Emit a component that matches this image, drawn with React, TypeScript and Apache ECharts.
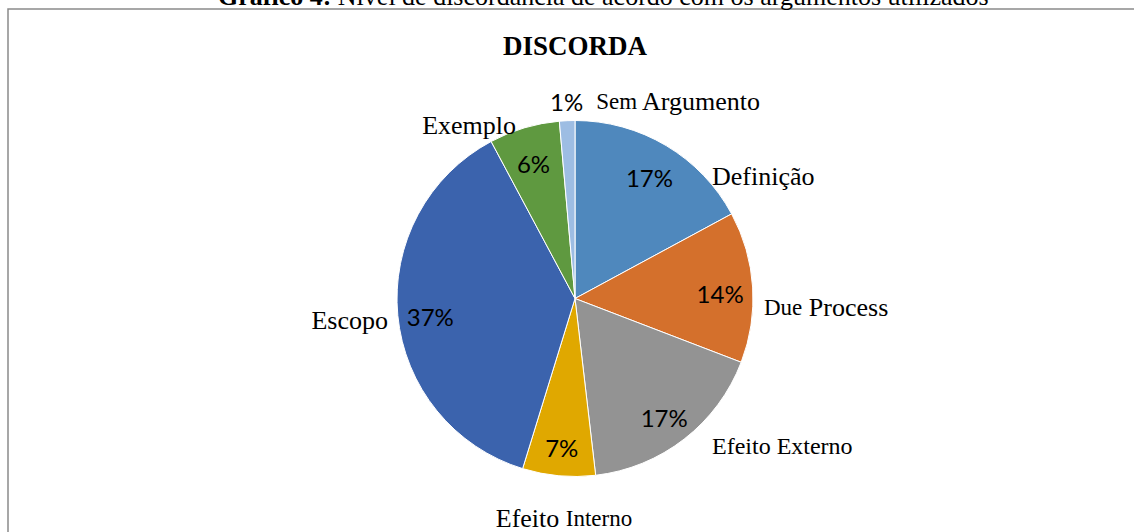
import React, { useEffect, useRef } from "react";
import * as echarts from "echarts";

const categories = ["Definição", "Due Process", "Efeito Externo", "Efeito Interno", "Escopo", "Exemplo", "Sem Argumento"];
const values = [17.1, 13.7, 17.3, 6.6, 37.4, 6.4, 1.4];
const colors = ["#4F88BD", "#D4702C", "#939393", "#E0A800", "#3B63AD", "#5F9940", "#9DBDE3"];
const chartTitle = "DISCORDA";
const captionBold = "Gráfico 4:";
const captionText = " Nível de discordância de acordo com os argumentos utilizados";

// label placement (style): offset from pie centre, alignment
const CX = 575;
const CY = 298.5;
const R = 178;
const namePos = [
  { dx: 137, dy: -122, align: "left" },
  { dx: 189, dy: 8.5, align: "left" },
  { dx: 137, dy: 147.5, align: "left" },
  { dx: -11, dy: 219.5, align: "center" },
  { dx: -187, dy: 21.5, align: "right" },
  { dx: -59, dy: -173.5, align: "right" },
  { dx: -25, dy: -197.5, align: "left" },
];

const SERIF = "'Liberation Serif', 'Times New Roman', serif";
const SANS = "Lato, 'Noto Sans', sans-serif";

export default function App() {
  const ref = useRef<HTMLDivElement>(null);
  useEffect(() => {
    if (!ref.current) return;
    const chart = echarts.init(ref.current, undefined, { renderer: "svg" });
    const total = values.reduce((a, b) => a + b, 0);
    const pct = (v: number) => Math.round((v / total) * 100) + "%";
    const baseData = categories.map((c, i) => ({ name: c, value: values[i] }));
    const nameFmt = (p: any) => {
      const i = p.dataIndex;
      if (i === 1) return "{s|Due} Process";
      if (i === 2) return "{m|Efeito Externo}";
      if (i === 3) return "Efeito {s|Interno}";
      if (i === 6) return "{p|" + pct(values[i]) + "}  {s|Sem} Argumento";
      return p.name;
    };
    chart.setOption({
      animation: false,
      backgroundColor: "#ffffff",
      graphic: [
        {
          type: "rect",
          z: 0,
          shape: { x: 8, y: 9, width: 1200, height: 600 },
          style: { fill: "none", stroke: "#8a8a8a", lineWidth: 1.5 },
        },
        {
          type: "text",
          x: 218,
          y: -4,
          style: {
            text: "{b|" + captionBold + "}" + captionText,
            font: "26px " + SERIF,
            fill: "#000",
            verticalAlign: "middle",
            align: "left",
            rich: { b: { fontWeight: "bold", fontSize: 26, fontFamily: SERIF, fill: "#000" } },
          },
        },
        {
          type: "text",
          x: CX,
          y: 46,
          style: {
            text: chartTitle,
            font: "bold 27px " + SERIF,
            fill: "#000",
            align: "center",
            verticalAlign: "middle",
          },
        },
      ],
      series: [
        {
          type: "pie",
          center: [CX, CY],
          radius: R,
          startAngle: 90,
          clockwise: true,
          silent: true,
          avoidLabelOverlap: false,
          label: { show: false },
          labelLine: { show: false },
          itemStyle: { borderColor: "#ffffff", borderWidth: 1 },
          data: baseData.map((d, i) => ({ ...d, itemStyle: { color: colors[i] } })),
        },
        {
          type: "pie",
          center: [CX, CY],
          radius: [R * 0.6, R],
          startAngle: 90,
          clockwise: true,
          silent: true,
          avoidLabelOverlap: false,
          itemStyle: { color: "rgba(0,0,0,0)" },
          label: {
            show: true,
            position: "inside",
            fontFamily: SANS,
            fontSize: 24,
            color: "#000",
            offset: [0, 4],
            formatter: (p: any) => pct(p.value),
          },
          labelLine: { show: false },
          data: baseData.map((d, i) => (i === 6 ? { ...d, label: { show: false } } : d)),
        },
        {
          type: "pie",
          center: [CX, CY],
          radius: R,
          startAngle: 90,
          clockwise: true,
          silent: true,
          avoidLabelOverlap: false,
          itemStyle: { color: "rgba(0,0,0,0)" },
          label: {
            show: true,
            position: "outside",
            fontFamily: SERIF,
            fontSize: 26,
            color: "#000",
            formatter: nameFmt,
            rich: {
              s: { fontFamily: SERIF, fontSize: 23, color: "#000" },
              m: { fontFamily: SERIF, fontSize: 24, color: "#000" },
              p: { fontFamily: SANS, fontSize: 24, color: "#000" },
            },
          },
          labelLine: { show: false },
          labelLayout: (params: any) => {
            const pos = namePos[params.dataIndex];
            return {
              x: CX + pos.dx,
              y: CY + pos.dy,
              align: pos.align,
              verticalAlign: "middle",
            };
          },
          data: baseData,
        },
      ],
    });
    return () => chart.dispose();
  }, []);
  return (
    <div
      ref={ref}
      style={{ position: "fixed", left: 0, top: 0, width: 1134, height: 532, background: "#fff" }}
    />
  );
}
